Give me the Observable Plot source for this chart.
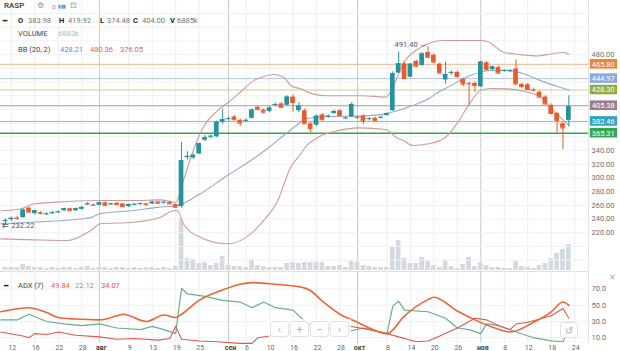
<!DOCTYPE html>
<html><head><meta charset="utf-8">
<script src="https://cdn.jsdelivr.net/npm/d3@7"></script>
<script src="https://cdn.jsdelivr.net/npm/@observablehq/plot@0.6"></script>
<style>
html,body{margin:0;padding:0;background:#fff;}
#wrap{position:relative;width:620px;height:351px;overflow:hidden;font-family:Roboto,"Liberation Sans",sans-serif;background:#fff;}
.t{position:absolute;white-space:nowrap;font-size:7.5px;line-height:10px;color:#333;}
.g{color:#777;}
.b{font-weight:bold;color:#222;}
.nav{position:absolute;top:321px;height:16px;width:19px;border:1px solid #dfe2e6;border-radius:3px;background:rgba(255,255,255,0.85);color:#aab0b8;font-size:10px;line-height:16px;text-align:center;box-sizing:border-box;}
</style></head>
<body><div id="wrap"></div>
<script>
// ---------------- data ----------------
const SYMBOL = "RASP";
const OPEN = [
 237,239,241.5,242,256,248,249,247,248,250,
 252,255,252,254,261,260.5,260,263.6,261,263,
 262,258,261,262,262,262,265,264,264.5,261,
 258,330,329,335,355,360,360,381,386,389,
 384,383.5,387,403,399,397,406,408,406,418,
 398,398,379,377,392,389.5,394,398,387,389,
 388.5,390,386,387,388,391,398,453,466.5,447,
 470,464,483,479,466,443,453,454,444,438,
 438,433,468,458,461,456,456,459,436.4,436,
 428.6,425,418,406,394,379,383.98];
const HIGH = [
 240,243,244,255,257,253,251,249,251,252,
 256,256,256,258,264,262,265,265,263,264,
 263,262,262,263,263,266,266,266,266,262,
 352,338,335,351,362,363,383,400,389,391,
 386,386,401,405,401,404,409,410,420,421,
 410,401,381,392,394,392,399,400,389,410,
 390,392,388,389,390,395,455,483.5,468,467,
 472,483,491.4,481,468,469,456,456,446,440,
 440,470,470,463,463,458,458,472,438,438,
 431,427,420,408,396,381,419.92];
const LOW = [
 232.22,237,239,241,249,246,246,245,247,248,
 251,251,251,253,260,259,259,259,260,260,
 257,257,259,260,259,261,262,263,261,256,
 256,326,327,334,353,357,359,378,383,383,
 375,381,386,398,393,395,404,401,405,396,
 395,378,366,375,383,387,393,389,385,388,
 386,378,383,382,386,390,397,452,444,446,
 461,463,475,468,452,437,450,446,433,406,
 425,432,456,456,452,454,454,436,431,428,
 426,417,406,392,365,341,374.48];
const CLOSE = [
 238,241,240.5,253,250,252,248,247.5,249,250.5,
 255,252,255,257,262,260,263.6,260,262,261,
 258,261,261.5,262.5,261,264.5,263,264.5,262,257.2,
 325,331.5,333,350,359,360.8,381,385,386.5,385,
 380,384,399,400,396,402,407,403,418,410,
 405,379,372,390,385,390,397,391,387.5,407,
 388,383,386.5,384,388.5,394,452,466.5,445,466,
 463,481,476,469,453,451,454,448,437,437.5,
 435,469,458,462,453,456.8,456.5,437,433.4,429,
 428,418,408,394,384,373,404.00];
const VOLUME_K = [
 800,800,800,1600,1100,800,800,550,800,550,
 800,800,550,800,1100,550,800,800,550,800,
 800,550,800,550,800,800,550,800,550,1100,
 13780,3180,2900,1850,2100,1300,1850,3700,1300,1060,
 1060,800,2900,1300,1060,800,800,800,1850,2100,
 1850,2100,2100,2100,2100,1060,1060,1300,800,2400,
 2100,1300,1060,800,800,800,6100,7950,3180,1850,
 1850,3450,2400,1300,800,2650,1060,530,1600,3450,
 1060,2100,1300,800,800,530,530,2400,1060,800,
 530,1300,1850,3180,4500,5560,6885];

// Bollinger bands (20,2): [trading-day index, value]
const BB_UPPER = [[-0.8,252],[2.6,255],[4.8,262],[10.6,265.5],[16.2,267],[21.8,267],[26.4,268],[29,264.5],[30.3,296],[32,340],[33.7,374],[36.1,398],[38,410.5],[40,425],[42.3,442],[44,448],[45.7,451],[47.4,447],[48.6,435],[50.3,430],[52.3,422.7],[55,420],[60.8,420],[64.8,418],[66,432],[67.7,466.5],[69.9,486],[72,496],[74.5,500.6],[81,500.6],[82.1,499],[84.9,483.5],[87.8,480],[90.7,478],[92.9,481],[95.1,483],[96,480.36]];
const BB_MIDDLE = [[-0.8,233],[4.3,235.4],[12.8,240],[14.5,242],[16.2,248],[21.8,252.4],[25.9,257],[29.3,259.7],[33.2,276.8],[37.8,303.5],[41.8,325.4],[44.6,342.5],[47.4,362],[50.3,381.3],[51.1,386],[55,389.6],[60.8,390.5],[64.8,393.5],[66.5,397.4],[69.4,405.7],[72.1,415.5],[74.1,427],[75.3,432],[79.2,449.5],[82.7,456.8],[85.5,457],[88.3,452],[91.2,442],[94.1,433.4],[96,428.21]];
const BB_LOWER = [[-0.8,211],[4.8,209.6],[10.6,208.6],[14.5,223],[16.2,233],[21.8,235.4],[26.4,242.6],[28.6,252],[29.3,252.4],[30.3,233],[33.2,213.4],[37.8,203.8],[40.6,211],[43.5,233],[46.4,267],[48.6,315.6],[50.3,335],[51.1,345],[53.3,359.4],[56.7,369],[60.2,373],[64.8,370.7],[66.5,359.4],[67.8,354.6],[69.4,347.3],[72.1,349.8],[75,359.4],[77,380],[79.2,410],[81,428],[82.7,430.5],[85.5,430],[89,425],[91.2,418],[93.4,398],[95.1,384],[96,376.05]];

// ADX(7) pane: [trading-day index, value]
const ADX = [[-0.8,42],[4,47],[7,41],[9,35],[12,33],[16,32],[19,37],[20,39],[24,30],[27,38],[29,35],[30,39],[33,56],[37,69],[40,76],[42,78],[46,76],[50,73],[52,68],[54,55],[57,39],[60,29],[62,22],[65,15],[68,37],[72,57],[73,60],[77,43],[80,32],[83,23],[86,17],[90,29],[93,42],[95,54],[96,49.84]];
const PLUS_DI = [[-0.8,32],[2,32],[4,39],[7,30],[10,27],[13,25],[16,27],[19,22],[23,20],[25,24],[27,20],[29,15],[30,71],[31,64],[34,61],[37,56],[40,54],[42,47],[44,54],[46,47],[49,44],[51,30],[53,22],[56,20],[58,17],[61,22],[65,15],[66,49],[67,55],[68,44],[72,42],[75,34],[77,22],[79,20],[81,15],[82,27],[84,25],[87,17],[90,10],[93,6],[95,5],[96,22.12]];
const MINUS_DI = [[-0.8,17],[3,12],[4,10],[5,15],[7,14],[9,17],[12,13],[16,11],[19,8],[22,9],[26,7],[28,9],[29,24],[30,8],[33,6],[36,5],[40,3],[42,3],[43,10],[45,12],[50,20],[53,17],[58,25],[62,20],[65,15],[70,5],[72,6],[74,12],[77,22],[80,34],[82,32],[84,25],[86,20],[87,27],[89,29],[93,37],[95,46],[96,34.07]];

// horizontal levels
const LEVELS = [465.80, 444.97, 428.30, 405.38, 382.46, 365.31];
const LEVEL_LINE = ["#f3b98c", "#b6c7e6", "#c3cf9c", "#a59aaa", "#8ab6d2", "#36a647"];
const LEVEL_BOX = ["#e5863a", "#8ea9dd", "#8fad45", "#9b7f8d", "#33a2c2", "#35a64f"];

// axis ticks
const PRICE_TICKS = [480, 340, 320, 300, 280, 260, 240, 220];
const PRICE_GRID = [180,200,220,240,260,280,300,320,340,360,380,400,420,440,460,480,500,520,540];
const ADX_TICKS = [10, 30, 50, 70];
const DAY_TICK_IDX = [1,5,9,13,21,25,29,33,41,45,49,53,57,65,69,73,77,85,89,93,97];
const DAY_TICK_TEXT = ["12","16","22","28","9","13","19","25","6","10","16","22","28","8","14","20","26","8","12","18","24"];
const MONTH_TICK_IDX = [16, 38, 60, 81];
const MONTH_TICK_TEXT = ["авг","сен","окт","ноя"];
const HIGHEST = {i: 72, v: 491.40};
const LOWEST = {i: 0, v: 232.22};

// ---------------- chart ----------------
const TEAL = "#25939f", RED = "#eb5a2c";
const HALF = 0.4;
const X_DOMAIN = [-0.852, 99.35];
const FONT = "Roboto, 'Liberation Sans', sans-serif";
const candles = OPEN.map((o, i) => ({i, o, h: HIGH[i], l: LOW[i], c: CLOSE[i]}));
const cCol = d => d.c >= d.o ? TEAL : RED;
const levels = LEVELS.map((v, k) => ({v, line: LEVEL_LINE[k], box: LEVEL_BOX[k], w: k === 5 ? 1.6 : 1}));
const dayMap = new Map(DAY_TICK_IDX.map((d, k) => [d, DAY_TICK_TEXT[k]]));
const monMap = new Map(MONTH_TICK_IDX.map((d, k) => [d, MONTH_TICK_TEXT[k]]));
const pt = d => d[0], pv = d => d[1];
const wrap = document.getElementById("wrap");
function place(el, top) { el.style.position = "absolute"; el.style.left = "0px"; el.style.top = top + "px"; wrap.appendChild(el); }

const volPlot = Plot.plot({
  width: 620, height: 271, marginLeft: 0, marginRight: 32, marginTop: 0, marginBottom: 1,
  x: {domain: X_DOMAIN, axis: null}, y: {domain: [0, 71550], axis: null},
  style: {background: "transparent", fontFamily: FONT},
  marks: [
    Plot.ruleX(DAY_TICK_IDX, {stroke: "#eceef1"}),
    Plot.ruleX(MONTH_TICK_IDX, {stroke: "#c5c8cd"}),
    Plot.ruleX([X_DOMAIN[1]], {stroke: "#e2e4e7"}),
    Plot.rect(VOLUME_K.map((v, i) => ({i, v})), {x1: d => d.i - HALF, x2: d => d.i + HALF, y1: 0, y2: "v", fill: "#d4d9df"})
  ]
});
place(volPlot, 0);

const pricePlot = Plot.plot({
  width: 620, height: 271, marginLeft: 0, marginRight: 32, marginTop: 0, marginBottom: 0,
  x: {domain: X_DOMAIN, axis: null}, y: {domain: [163.4, 558.98]},
  color: {type: "identity"},
  style: {background: "transparent", fontFamily: FONT, overflow: "visible"},
  marks: [
    Plot.ruleY(PRICE_GRID, {stroke: "#f0f1f3"}),
    Plot.ruleY(levels, {y: "v", stroke: "line", strokeWidth: "w"}),
    Plot.line(BB_UPPER, {x: pt, y: pv, stroke: "#d09b99", strokeWidth: 1.1, curve: "monotone-x"}),
    Plot.line(BB_LOWER, {x: pt, y: pv, stroke: "#d09b99", strokeWidth: 1.1, curve: "monotone-x"}),
    Plot.line(BB_MIDDLE, {x: pt, y: pv, stroke: "#94aacd", strokeWidth: 1.1, curve: "monotone-x"}),
    Plot.ruleX(candles, {x: "i", y1: "l", y2: "h", stroke: cCol, strokeWidth: 1}),
    Plot.rect(candles, {x1: d => d.i - HALF, x2: d => d.i + HALF, y1: "o", y2: "c", fill: cCol}),
    Plot.ruleY(candles, {y: "c", x1: d => d.i - HALF, x2: d => d.i + HALF, stroke: cCol}),
    Plot.axisY(PRICE_TICKS, {anchor: "right", tickSize: 0, tickPadding: 3, tickFormat: d3.format(".2f"), fontSize: 7.5, color: "#6b6f75", label: null}),
    Plot.rect(levels, {x1: X_DOMAIN[1] + 0.3, x2: X_DOMAIN[1] + 4.95, y1: d => d.v - 7, y2: d => d.v + 7, fill: "box"}),
    Plot.text(levels, {x: X_DOMAIN[1] + 0.55, y: "v", text: d => d.v.toFixed(2), textAnchor: "start", fill: "white", fontSize: 7.5}),
    Plot.text([HIGHEST], {x: "i", y: "v", text: d => d.v.toFixed(2) + " →", textAnchor: "end", dx: -1, dy: -2, fontSize: 7.5, fill: "#555"}),
    Plot.text([LOWEST], {x: "i", y: "v", text: d => "⇇ " + d.v.toFixed(2), textAnchor: "start", dx: -3, dy: 1, fontSize: 7.5, fill: "#555"})
  ]
});
place(pricePlot, 0);

const adxPlot = Plot.plot({
  width: 620, height: 80, marginLeft: 0, marginRight: 32, marginTop: 0, marginBottom: 8,
  x: {domain: X_DOMAIN}, y: {domain: [2.84, 91.7]},
  style: {background: "transparent", fontFamily: FONT, overflow: "visible"},
  marks: [
    Plot.ruleY([91.7], {stroke: "#dcdfe3"}),
    Plot.ruleY(ADX_TICKS, {stroke: "#f0f1f3"}),
    Plot.ruleX(DAY_TICK_IDX, {stroke: "#eceef1"}),
    Plot.ruleX(MONTH_TICK_IDX, {stroke: "#c5c8cd"}),
    Plot.ruleX([X_DOMAIN[1]], {stroke: "#e2e4e7"}),
    Plot.line(PLUS_DI, {x: pt, y: pv, stroke: "#6aae8e", strokeWidth: 1.2}),
    Plot.line(MINUS_DI, {x: pt, y: pv, stroke: "#e2574f", strokeWidth: 1.1}),
    Plot.line(ADX, {x: pt, y: pv, stroke: "#ec6536", strokeWidth: 1.6, curve: "monotone-x"}),
    Plot.axisY(ADX_TICKS, {anchor: "right", tickSize: 0, tickPadding: 3, tickFormat: d3.format(".1f"), fontSize: 7.5, color: "#6b6f75", label: null}),
    Plot.axisX(DAY_TICK_IDX, {tickSize: 0, tickPadding: 2, dx: 1, tickFormat: d => dayMap.get(d), fontSize: 7, color: "#666", label: null}),
    Plot.axisX(MONTH_TICK_IDX, {tickSize: 0, tickPadding: 2, dx: 2, tickFormat: d => monMap.get(d), fontSize: 7, fontWeight: "bold", color: "#444", label: null})
  ]
});
place(adxPlot, 271);

// ---------------- header / overlays ----------------
function txt(s, left, top, cls, style) {
  const e = document.createElement("div");
  e.className = "t " + (cls || "");
  e.textContent = s;
  e.style.left = left + "px"; e.style.top = top + "px";
  if (style) Object.assign(e.style, style);
  wrap.appendChild(e);
  return e;
}
txt(SYMBOL, 4, 1, "", {fontSize: "8px", color: "#333", fontWeight: "500"});
txt("⚙", 37, 1, "", {fontSize: "8px", color: "#8a8f96"});
txt("D", 52, 2, "", {fontSize: "6px", color: "#8a8f96"});
txt("▮▮▮", 58, 2, "", {fontSize: "4.5px", color: "#5b8fd9", letterSpacing: "-0.5px"});
txt("⊡", 70, 1, "", {fontSize: "8px", color: "#8a8f96"});

txt("━", 3, 16, "b", {fontSize: "7px"});
txt("O", 18, 16, "b"); txt(OPEN[96].toFixed(2), 28, 16, "g");
txt("H", 59, 16, "b"); txt(HIGH[96].toFixed(2), 68, 16, "g");
txt("L", 100, 16, "b"); txt(LOW[96].toFixed(2), 107, 16, "g");
txt("C", 133, 16, "b"); txt(CLOSE[96].toFixed(2), 142, 16, "g");
txt("V", 170, 16, "b"); txt(VOLUME_K[96] + "k", 177, 16, "g");

txt("VOLUME", 18, 29, "", {color: "#444"});
txt("6882k", 58, 29, "", {color: "#a9bbd0"});

txt("BB (20, 2)", 18, 45, "", {color: "#444"});
txt(BB_MIDDLE[BB_MIDDLE.length - 1][1].toFixed(2), 60, 45, "", {color: "#5b8ed6"});
txt(BB_UPPER[BB_UPPER.length - 1][1].toFixed(2), 90, 45, "", {color: "#e06060"});
txt(BB_LOWER[BB_LOWER.length - 1][1].toFixed(2), 120, 45, "", {color: "#e06060"});

txt("━", 4, 281, "b", {fontSize: "7px"});
txt("ADX (7)", 18, 281, "", {color: "#444"});
txt(ADX[ADX.length - 1][1].toFixed(2), 51, 281, "", {color: "#ec6536"});
txt(PLUS_DI[PLUS_DI.length - 1][1].toFixed(2), 75, 281, "", {color: "#6aae8e"});
txt(MINUS_DI[MINUS_DI.length - 1][1].toFixed(2), 101, 281, "", {color: "#e2574f"});
txt("✕", 609, 273, "", {fontSize: "8px", color: "#aaa"});

// navigation overlay
const panel = document.createElement("div");
Object.assign(panel.style, {position: "absolute", left: "269px", top: "319px", width: "82px", height: "21px", background: "rgba(255,255,255,0.75)"});
wrap.appendChild(panel);
[["‹", 270], ["+", 290], ["−", 310], ["›", 330]].forEach(([s, l]) => {
  const b = document.createElement("div"); b.className = "nav"; b.textContent = s; b.style.left = l + "px"; wrap.appendChild(b);
});
const rs = document.createElement("div"); rs.className = "nav"; rs.textContent = "↺"; rs.style.left = "560px"; rs.style.top = "322px"; rs.style.width = "18px";
wrap.appendChild(rs);
</script>
</body></html>
